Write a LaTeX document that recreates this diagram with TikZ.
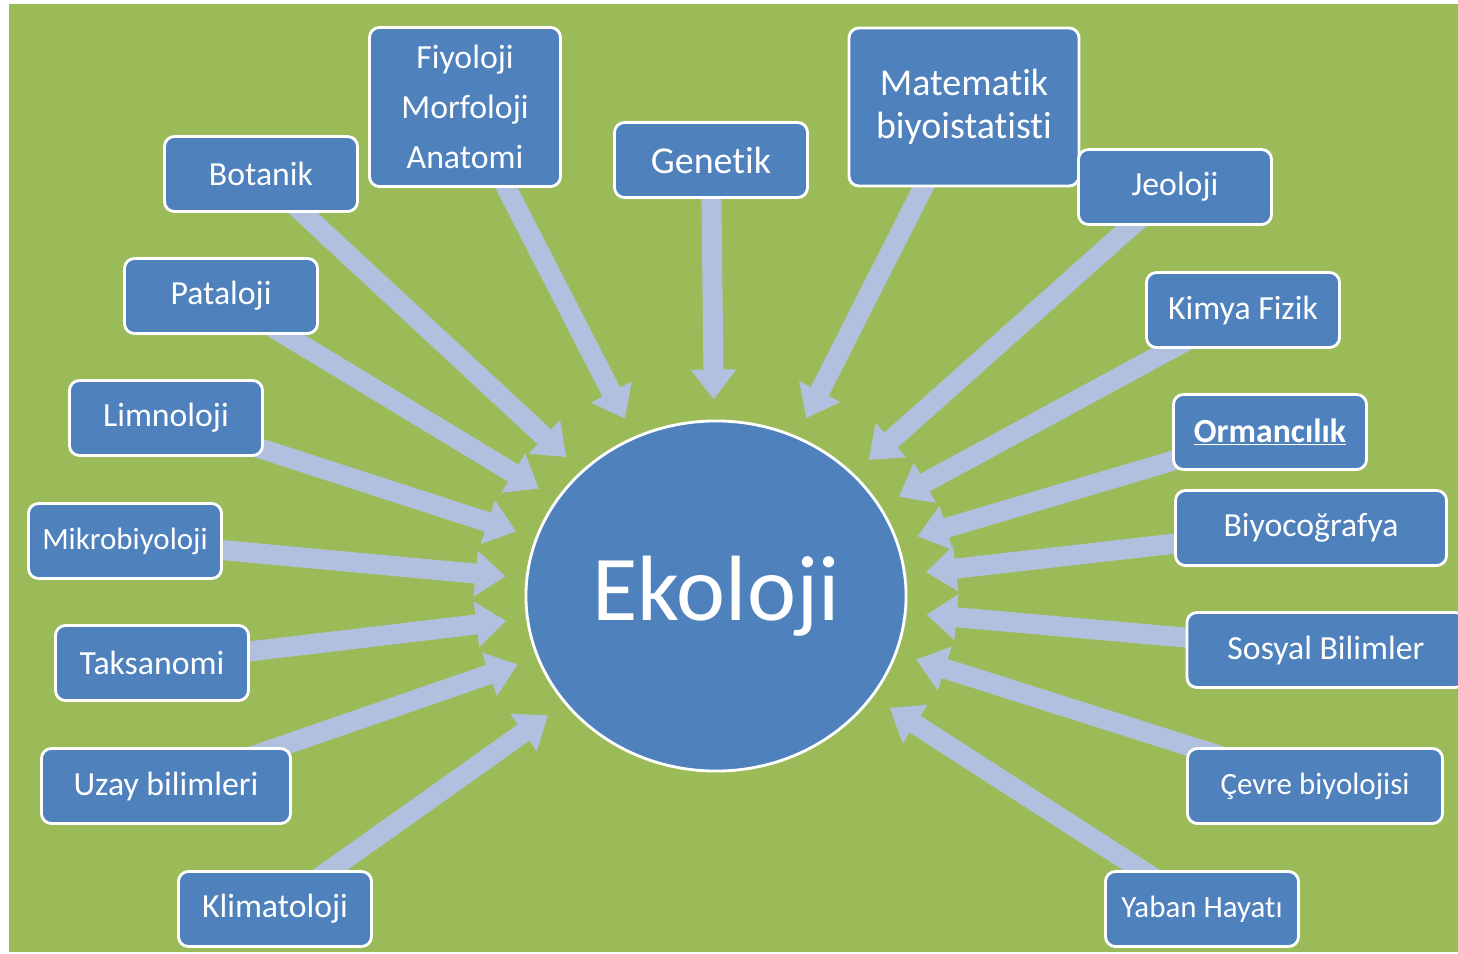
\documentclass[tikz,border=0pt]{standalone}
\usepackage{fontspec}
\setmainfont{Carlito}[Ligatures=NoCommon]
\usetikzlibrary{arrows.meta,shapes.geometric}
\definecolor{ekogreen}{HTML}{9BBB59}
\definecolor{ekoblue}{HTML}{4F81BD}
\definecolor{ekoarrow}{HTML}{B0C0DE}
\pgfdeclarelayer{bg}
\pgfdeclarelayer{arrlayer}
\pgfsetlayers{bg,arrlayer,main}

\begin{document}
\begin{tikzpicture}[x=0.025cm,y=-0.025cm,
  box/.style={draw=white,line width=2pt,fill=ekoblue,rounded corners=0.25cm,text=white,
    minimum width=4.825cm,minimum height=1.875cm,inner sep=0pt,align=center,
    font=\fontsize{24}{28}\selectfont},
  smallbox/.style={box,font=\fontsize{22}{26}\selectfont},
  arr/.style={ekoarrow,line width=0.5cm,-{Triangle[length=0.75cm,width=1.1cm]},shorten >=0.5cm}]
\useasboundingbox (0,0) rectangle (1458,953);
\begin{pgfonlayer}{bg}
\fill[ekogreen] (9,4) rectangle (1458,952);
\end{pgfonlayer}
% center
\node[ellipse,draw=white,line width=2pt,fill=ekoblue,text=white,minimum width=9.5cm,minimum height=8.75cm,
  font=\fontsize{66}{70}\selectfont] (eko) at (716,596) {Ekoloji};
% top row
\node[box] (bot) at (261,174) {Botanik};
\node[box,minimum width=4.775cm,minimum height=3.975cm,font=\fontsize{24}{35.5}\selectfont] (fma) at (465,107) {Fiyoloji\\Morfoloji\\Anatomi};
\node[box,font=\fontsize{27}{30}\selectfont] (gen) at (711,160) {Genetik};
\node[box,minimum width=5.75cm,minimum height=3.95cm,font=\fontsize{27}{30.5}\selectfont] (mat) at (964,107) {Matematik\\biyoistatisti};
\node[box] (jeo) at (1175,187) {Jeoloji};
% right side
\node[box] (kim) at (1243,310) {Kimya Fizik};
\node[box] (orm) at (1270,432) {\underline{\textbf{Ormancılık}}};
\node[box,minimum width=6.775cm] (biy) at (1311,528) {Biyocoğrafya};
\node[box,minimum width=6.95cm] (sos) at (1326,650) {Sosyal Bilimler};
\node[smallbox,minimum width=6.375cm] (cev) at (1315,786) {Çevre biyolojisi};
\node[smallbox] (yab) at (1202,909) {Yaban Hayatı};
% left side
\node[box] (pat) at (221,296) {Pataloji};
\node[box] (lim) at (166,418) {Limnoloji};
\node[smallbox] (mik) at (125,541) {Mikrobiyoloji};
\node[box] (tak) at (152,663) {Taksanomi};
\node[box,minimum width=6.225cm] (uza) at (166,786) {Uzay bilimleri};
\node[box] (kli) at (275,909) {Klimatoloji};
% arrows
\begin{pgfonlayer}{arrlayer}
\foreach \n in {bot,fma,gen,mat,jeo,kim,orm,biy,sos,cev,yab,pat,lim,mik,tak,uza,kli}
  \draw[arr] (\n.center) -- (eko);
\end{pgfonlayer}
\end{tikzpicture}
\end{document}
